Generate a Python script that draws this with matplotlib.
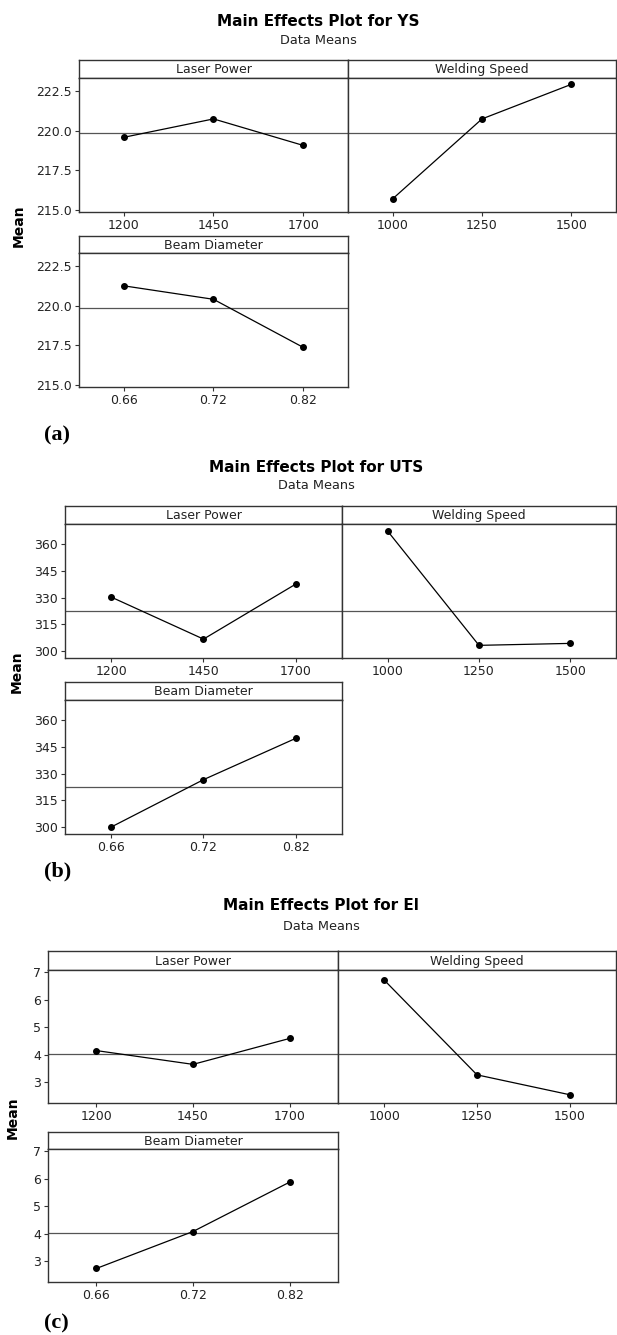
import matplotlib
matplotlib.use("Agg")
import matplotlib.pyplot as plt

# ---------------- data ----------------
factor_names = ["Laser Power", "Welding Speed", "Beam Diameter"]
lp_levels = ["1200", "1450", "1700"]
ws_levels = ["1000", "1250", "1500"]
bd_levels = ["0.66", "0.72", "0.82"]

responses = ["YS", "UTS", "El"]
panel_tags = ["(a)", "(b)", "(c)"]

ys_lp = [219.58, 220.74, 219.07]
ys_ws = [215.70, 220.74, 222.92]
ys_bd = [221.25, 220.40, 217.37]
ys_mean = 219.83
ys_ticks = [215.0, 217.5, 220.0, 222.5]
ys_ticklabels = ["215.0", "217.5", "220.0", "222.5"]
ys_ylim = (214.87, 223.32)

uts_lp = [330.3, 306.7, 337.6]
uts_ws = [367.3, 303.2, 304.3]
uts_bd = [300.0, 326.6, 349.8]
uts_mean = 322.3
uts_ticks = [300, 315, 330, 345, 360]
uts_ticklabels = ["300", "315", "330", "345", "360"]
uts_ylim = (296.1, 371.3)

el_lp = [4.15, 3.65, 4.59]
el_ws = [6.70, 3.27, 2.55]
el_bd = [2.74, 4.08, 5.87]
el_mean = 4.04
el_ticks = [3, 4, 5, 6, 7]
el_ticklabels = ["3", "4", "5", "6", "7"]
el_ylim = (2.25, 7.07)

# ---------------- layout (pixels) ----------------
W, H = 617, 1335
fig = plt.figure(figsize=(W / 100, H / 100), dpi=100)
fig.patch.set_facecolor("white")

FONT = "DejaVu Sans"
EDGE = "#333333"


def ax_px(left, top, right, bottom):
    return fig.add_axes([left / W, 1 - bottom / H, (right - left) / W, (bottom - top) / H])


def strip(left, top, right, bottom, label):
    s = ax_px(left, top, right, bottom)
    s.set_xticks([])
    s.set_yticks([])
    for sp in s.spines.values():
        sp.set_linewidth(1.0)
        sp.set_color(EDGE)
    s.text(0.5, 0.45, label, ha="center", va="center", fontsize=9, family=FONT,
           color="#222222", transform=s.transAxes)
    return s


def panel(left, top, right, bottom, levels, values, mean, ylim, ticks, ticklabels, show_y):
    a = ax_px(left, top, right, bottom)
    x = list(range(len(levels)))
    a.axhline(mean, color="#555555", lw=0.9, zorder=1)
    a.plot(x, values, color="black", lw=0.9, marker="o", markersize=4, zorder=3)
    a.set_xlim(-0.5, 2.5)
    a.set_ylim(*ylim)
    a.set_xticks(x)
    a.set_xticklabels(levels, fontsize=9, family=FONT, color="#222222")
    a.set_yticks(ticks)
    if show_y:
        a.set_yticklabels(ticklabels, fontsize=9, family=FONT, color="#222222")
    else:
        a.tick_params(axis="y", left=False, labelleft=False)
    a.tick_params(direction="out", length=3, width=0.8, color=EDGE, pad=2)
    for sp in a.spines.values():
        sp.set_linewidth(1.0)
        sp.set_color(EDGE)
    return a


groups = [
    dict(resp="YS", tag="(a)", lp=ys_lp, ws=ys_ws, bd=ys_bd, mean=ys_mean, ylim=ys_ylim,
         ticks=ys_ticks, tl=ys_ticklabels,
         L=79, M=348, R=616, st=60, sb=78, pb=212, bst=236, bsb=253, bpb=387,
         title_y=21, sub_y=40, title_x=318, mean_x=19, mean_y=226, tag_y=435),
    dict(resp="UTS", tag="(b)", lp=uts_lp, ws=uts_ws, bd=uts_bd, mean=uts_mean, ylim=uts_ylim,
         ticks=uts_ticks, tl=uts_ticklabels,
         L=65, M=342, R=616, st=506, sb=524, pb=658, bst=682, bsb=700, bpb=834,
         title_y=467, sub_y=486, title_x=316, mean_x=17, mean_y=672, tag_y=871),
    dict(resp="El", tag="(c)", lp=el_lp, ws=el_ws, bd=el_bd, mean=el_mean, ylim=el_ylim,
         ticks=el_ticks, tl=el_ticklabels,
         L=48, M=338, R=616, st=951, sb=970, pb=1103, bst=1132, bsb=1149, bpb=1282,
         title_y=906, sub_y=926, title_x=321, mean_x=13, mean_y=1118, tag_y=1323),
]

for g in groups:
    fig.text(g["title_x"] / W, 1 - g["title_y"] / H, "Main Effects Plot for " + g["resp"],
             ha="center", va="center", fontsize=11, fontweight="bold", family=FONT)
    fig.text(g["title_x"] / W, 1 - g["sub_y"] / H, "Data Means",
             ha="center", va="center", fontsize=9.3, family=FONT, color="#222222")

    strip(g["L"], g["st"], g["M"], g["sb"], factor_names[0])
    strip(g["M"], g["st"], g["R"], g["sb"], factor_names[1])
    strip(g["L"], g["bst"], g["M"], g["bsb"], factor_names[2])

    panel(g["L"], g["sb"], g["M"], g["pb"], lp_levels, g["lp"], g["mean"], g["ylim"],
          g["ticks"], g["tl"], True)
    panel(g["M"], g["sb"], g["R"], g["pb"], ws_levels, g["ws"], g["mean"], g["ylim"],
          g["ticks"], g["tl"], False)
    panel(g["L"], g["bsb"], g["M"], g["bpb"], bd_levels, g["bd"], g["mean"], g["ylim"],
          g["ticks"], g["tl"], True)

    fig.text(g["mean_x"] / W, 1 - g["mean_y"] / H, "Mean", rotation=90,
             ha="center", va="center", fontsize=10, fontweight="bold", family=FONT)
    fig.text(44 / W, 1 - g["tag_y"] / H, g["tag"], ha="left", va="center",
             fontsize=16, fontweight="bold", family="Liberation Serif")

fig.savefig("out.png", dpi=100, facecolor="white")
